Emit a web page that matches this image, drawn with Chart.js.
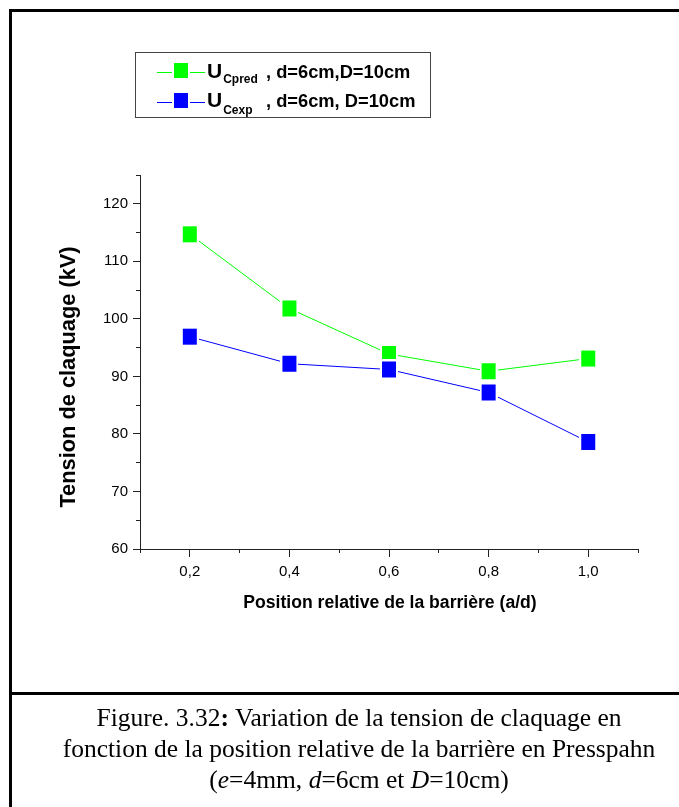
<!DOCTYPE html>
<html>
<head>
<meta charset="utf-8">
<script src="https://cdn.jsdelivr.net/npm/chart.js@4/dist/chart.umd.min.js"></script>
<style>
	html, body { margin: 0; padding: 0; background: #fff; overflow: hidden; }
	body { width: 679px; height: 807px; position: relative; }
	#chart { position: absolute; left: 0; top: 0; }
	.frame { position: absolute; left: 9px; top: 9px; width: 720px; height: 900px; border-left: 3px solid #000; border-top: 3px solid #000; }
	.sep { position: absolute; left: 9px; top: 692px; width: 700px; height: 3px; background: #000; }
	.cap { position: absolute; left: 12px; top: 702px; width: 694px; text-align: center; font-family: 'Liberation Serif', 'Times New Roman', serif; font-size: 25.5px; line-height: 31px; color: #000; white-space: nowrap; }
</style>
</head>
<body>
<canvas id="chart" width="679" height="690"></canvas>
<div class="frame"></div>
<div class="sep"></div>
<div class="cap">Figure. 3.32<b>:</b> Variation de la tension de claquage en<br>fonction de la position relative de la barrière en Presspahn<br>(<i>e</i>=4mm, <i>d</i>=6cm et <i>D</i>=10cm)</div>
<script>
// data
const positions = [0.2, 0.4, 0.6, 0.8, 1.0];
const predValues = [114.7, 101.8, 93.9, 90.9, 93.1];
const expValues = [96.9, 92.2, 91.2, 87.2, 78.6];

const legendMain = ['U', 'U'];
const legendSub = ['Cpred', 'Cexp'];
const legendRest = [', d=6cm,D=10cm', ', d=6cm, D=10cm'];
const seriesColors = ['#00FF00', '#0000FF'];

const xTitle = 'Position relative de la barrière (a/d)';
const yTitle = 'Tension de claquage (kV)';

const axisColor = '#222';
Chart.defaults.font.family = "'Liberation Sans', Arial, sans-serif";
Chart.defaults.color = '#000';

function marker(color) {
	const c = document.createElement('canvas');
	c.width = 18;
	c.height = 20;
	const g = c.getContext('2d');
	g.fillStyle = '#fff';
	g.fillRect(0, 0, 18, 20);
	g.fillStyle = color;
	g.fillRect(2, 2, 14, 16);
	return c;
}

function points(values) {
	return positions.map((p, i) => ({ x: p, y: values[i] }));
}

const tenths = v => Math.round(v * 10);

// legend + axis titles drawn by hand (subscripts)
const extras = {
	id: 'extras',
	afterDraw(chart) {
		const ctx = chart.ctx;
		ctx.save();
		ctx.fillStyle = '#000';

		ctx.font = "bold 17.6px 'Liberation Sans', Arial, sans-serif";
		ctx.textAlign = 'center';
		ctx.textBaseline = 'middle';
		ctx.fillText(xTitle, 390, 603);

		ctx.save();
		ctx.translate(69, 377);
		ctx.rotate(-Math.PI / 2);
		ctx.font = "bold 21.8px 'Liberation Sans', Arial, sans-serif";
		ctx.fillText(yTitle, 0, 0);
		ctx.restore();

		ctx.strokeStyle = '#444';
		ctx.lineWidth = 1;
		ctx.strokeRect(135.5, 52.5, 295, 65);

		const rows = [72, 102];
		ctx.textAlign = 'left';
		ctx.textBaseline = 'alphabetic';
		rows.forEach((y, i) => {
			ctx.strokeStyle = seriesColors[i];
			ctx.beginPath();
			ctx.moveTo(157, y + 0.5);
			ctx.lineTo(205, y + 0.5);
			ctx.stroke();
			ctx.fillStyle = '#fff';
			ctx.fillRect(172, y - 10, 18, 19);
			ctx.fillStyle = seriesColors[i];
			ctx.fillRect(174, y - 9, 14, 15);

			ctx.fillStyle = '#000';
			ctx.font = "bold 21px 'Liberation Sans', Arial, sans-serif";
			ctx.fillText(legendMain[i], 207, y + 6 - i);
			const uw = ctx.measureText(legendMain[i]).width;
			ctx.font = "bold 12px 'Liberation Sans', Arial, sans-serif";
			ctx.fillText(legendSub[i], 207 + uw + 1, y + 11 + i);
			ctx.font = "bold 18.3px 'Liberation Sans', Arial, sans-serif";
			ctx.fillText(legendRest[i], 266, y + 6 - i);
		});
		ctx.restore();
	}
};

new Chart(document.getElementById('chart'), {
	type: 'line',
	data: {
		datasets: [{
			data: points(predValues),
			borderColor: seriesColors[0],
			borderWidth: 1,
			pointStyle: marker(seriesColors[0]),
			order: 2,
		}, {
			data: points(expValues),
			borderColor: seriesColors[1],
			borderWidth: 1,
			pointStyle: marker(seriesColors[1]),
			order: 1,
		}]
	},
	options: {
		responsive: false,
		animation: false,
		devicePixelRatio: 1,
		layout: {
			padding: { left: 40, right: 41, top: 175, bottom: 81 }
		},
		scales: {
			x: {
				type: 'linear',
				position: 'bottom',
				weight: 1,
				min: 0.1,
				max: 1.1,
				afterBuildTicks: s => { s.ticks = s.ticks.filter(t => tenths(t.value) % 2 === 0); },
				afterFit: s => { s.height = 60; },
				border: { display: true, color: axisColor, width: 1 },
				grid: { drawOnChartArea: false, tickLength: 8, tickColor: axisColor },
				ticks: {
					stepSize: 0.1,
					autoSkip: false,
					maxRotation: 0,
					padding: 6,
					font: { size: 15 },
					callback: v => v.toFixed(1).replace('.', ','),
				}
			},
			xm: {
				type: 'linear',
				position: 'bottom',
				weight: 0,
				min: 0.1,
				max: 1.1,
				afterBuildTicks: s => { s.ticks = s.ticks.filter(t => tenths(t.value) % 2 === 1); },
				afterFit: s => { s.height = 0; },
				border: { display: false },
				grid: { drawOnChartArea: false, tickLength: 4, tickColor: axisColor },
				ticks: { stepSize: 0.1, autoSkip: false, display: false }
			},
			y: {
				position: 'left',
				weight: 1,
				min: 60,
				max: 125,
				afterBuildTicks: s => { s.ticks = s.ticks.filter(t => Math.round(t.value) % 10 === 0); },
				afterFit: s => { s.width = 100; },
				border: { display: true, color: axisColor, width: 1 },
				grid: { drawOnChartArea: false, tickLength: 7, tickColor: axisColor },
				ticks: { stepSize: 5, autoSkip: false, padding: 5, font: { size: 15 } }
			},
			ym: {
				position: 'left',
				weight: 0,
				min: 60,
				max: 125,
				afterBuildTicks: s => { s.ticks = s.ticks.filter(t => Math.round(t.value) % 10 === 5); },
				afterFit: s => { s.width = 0; },
				border: { display: false },
				grid: { drawOnChartArea: false, tickLength: 4, tickColor: axisColor },
				ticks: { stepSize: 5, autoSkip: false, display: false }
			}
		},
		plugins: {
			legend: { display: false },
			tooltip: { enabled: false }
		}
	},
	plugins: [extras]
});
</script>
</body>
</html>
